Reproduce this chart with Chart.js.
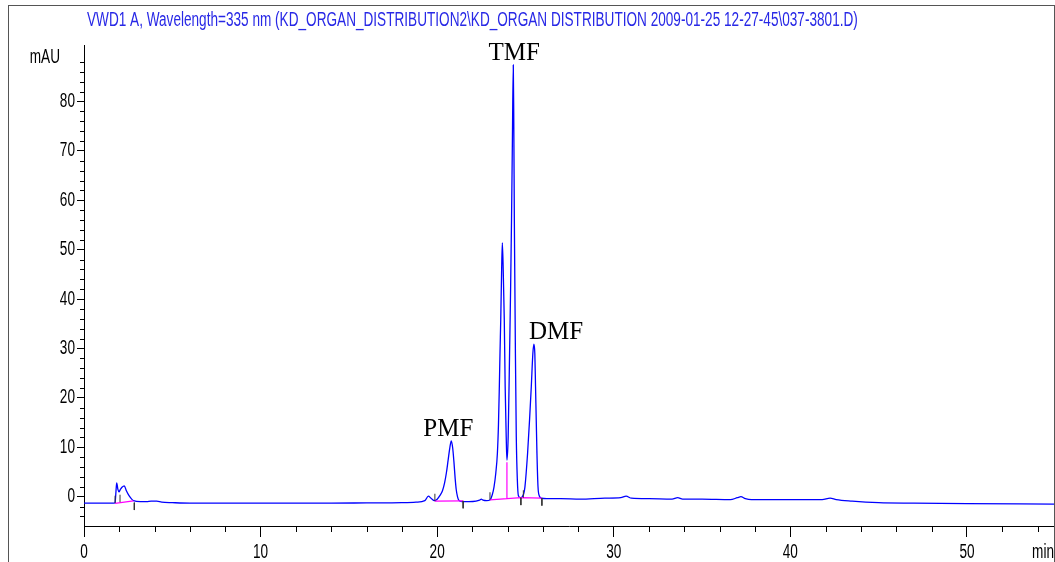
<!DOCTYPE html>
<html>
<head>
<meta charset="utf-8">
<script src="https://cdn.jsdelivr.net/npm/chart.js@4.4.1/dist/chart.umd.min.js"></script>
<style>
  html, body { margin: 0; padding: 0; background: #fff; }
  #chromatogram { display: block; }
</style>
</head>
<body>
<canvas id="chromatogram" width="1055" height="562"></canvas>
<script>
// retention time (min)
const retentionTimes = [
  0.00, 1.00, 1.70, 1.76, 1.80, 1.85, 1.92, 1.98, 2.05, 2.15, 2.28, 2.40, 2.55, 2.70, 2.80,
  3.20, 3.55, 3.80, 4.12, 4.40, 5.00, 6.00, 8.00, 10.0, 12.0, 14.0, 16.0, 18.0, 18.8,
  19.30, 19.50, 19.65, 19.85, 20.00, 20.15, 20.30, 20.42, 20.52, 20.62, 20.72, 20.80,
  20.88, 20.95, 21.02, 21.08, 21.15, 21.22, 21.40, 21.80, 22.20, 22.40, 22.50, 22.60, 22.80,
  23.00, 23.12, 23.22, 23.32, 23.41, 23.47, 23.52, 23.56, 23.60, 23.65, 23.69,
  23.74, 23.80, 23.85, 23.91, 23.95, 24.02, 24.10, 24.16, 24.21, 24.26, 24.31,
  24.34, 24.37, 24.40, 24.43, 24.48, 24.54, 24.60, 24.72, 24.80, 24.90, 24.97,
  25.12, 25.23, 25.33, 25.42, 25.48, 25.53, 25.57, 25.61, 25.65, 25.71, 25.78, 25.90,
  26.20, 27.00, 28.10, 29.50, 30.40, 30.70, 31.00, 32.00, 33.30, 33.62, 33.90, 35.00,
  36.60, 37.00, 37.20, 37.45, 37.80, 40.00, 41.80, 42.25, 42.60, 43.50, 45.00, 47.00,
  50.00, 54.93,
];

// VWD1 A signal at 335 nm (mAU)
const absorbance = [
  -1.30, -1.30, -1.30, -1.20, 0.50, 2.80, 1.50, 1.00, 1.40, 1.90, 2.20, 1.20, 0.20, -0.50, -0.80,
  -1.00, -1.00, -0.90, -0.90, -1.10, -1.20, -1.30, -1.30, -1.30, -1.30, -1.30, -1.25, -1.20, -1.10,
  -0.80, 0.10, -0.30, -0.80, -0.50, 0.20, 1.20, 2.80, 4.80, 7.40, 10.0, 11.3,
  9.80, 7.00, 3.60, 1.40, 0.00, -0.70, -1.00, -1.00, -0.90, -0.70, -0.50, -0.70, -0.80,
  -0.60, 0.40, 2.00, 4.80, 8.80, 14.5, 22.3, 29.5, 35.8, 45.9, 51.4,
  45.9, 35.8, 22.3, 12.1, 7.40, 12.1, 29.1, 42.5, 56.0, 72.2, 87.4,
  75.0, 56.0, 42.5, 29.1, 12.1, 3.40, 0.20, -0.20, -0.10, 0.60, 2.00,
  8.80, 15.5, 22.3, 29.1, 30.9, 29.0, 22.3, 15.5, 8.80, 2.00, 0.20, -0.30,
  -0.40, -0.40, -0.50, -0.30, -0.20, 0.10, -0.30, -0.40, -0.50, -0.20, -0.50, -0.50,
  -0.60, -0.20, 0.00, -0.40, -0.60, -0.60, -0.60, -0.30, -0.60, -0.90, -1.20, -1.30,
  -1.40, -1.50,
];

// named peaks
const peakNames = ['PMF', 'TMF', 'DMF'];
const peakTimes = [20.80, 24.31, 25.48];
const peakHeights = [11.3, 87.4, 30.9];

// integration baselines [start time, start level, end time, end level]
const integrationBaselines = [
  [1.76, -1.35, 2.80, -0.85],
  [19.87, -0.90, 21.47, -0.85],
  [22.99, -0.65, 24.74, -0.20],
  [24.74, -0.20, 25.93, -0.30],
];
// drop line between the two co-eluting peaks [time, from, to]
const dropLine = [23.95, -0.45, 7.0];

// peak start / end event marks [time, level]
const startEvents = [[1.76, -1.3], [2.04, -1.1], [19.87, -0.9], [22.99, -0.6], [24.88, -0.2]];
const endEvents = [[2.85, -1.2], [21.47, -0.85], [24.74, -0.2], [25.93, -0.3]];

// axis ticks
const xTicks = [0, 10, 20, 30, 40, 50];
const yTicks = [0, 10, 20, 30, 40, 50, 60, 70, 80];

const X_MAX = 54.93;
const Y_MIN = -5.93;
const Y_MAX = 91.44;
const MINOR_STEP = 2;
const MARK_LENGTH = 1.5;

const traceData = retentionTimes.map((t, i) => ({ x: t, y: absorbance[i] }));

const baselineData = [];
integrationBaselines.forEach(([t0, y0, t1, y1]) => {
  baselineData.push({ x: t0, y: y0 }, { x: t1, y: y1 }, { x: t1, y: null });
});
baselineData.push({ x: dropLine[0], y: dropLine[1] }, { x: dropLine[0], y: dropLine[2] });

const eventData = [];
startEvents.forEach(([t, level]) => {
  eventData.push({ x: t, y: level }, { x: t, y: level + MARK_LENGTH }, { x: t, y: null });
});
endEvents.forEach(([t, level]) => {
  eventData.push({ x: t, y: level }, { x: t, y: level - MARK_LENGTH }, { x: t, y: null });
});

const axisFont = "20px 'Liberation Sans', Arial, sans-serif";
const squeeze = 0.68;

// condensed axis lettering
function narrowText(ctx, text, x, y, align) {
  ctx.save();
  ctx.translate(x, y);
  ctx.scale(squeeze, 1);
  ctx.textAlign = align;
  ctx.fillText(text, 0, 0);
  ctx.restore();
}

const decorations = {
  id: 'decorations',
  afterDraw(chart) {
    const { ctx, chartArea } = chart;
    const x = chart.scales.x;
    const y = chart.scales.y;
    ctx.save();

    // outer frame
    ctx.strokeStyle = '#555';
    ctx.lineWidth = 1;
    ctx.strokeRect(8.5, 5.5, 1046, 600);

    // signal description
    ctx.fillStyle = '#2828e6';
    ctx.font = axisFont;
    ctx.textBaseline = 'middle';
    narrowText(ctx, 'VWD1 A, Wavelength=335 nm (KD_ORGAN_DISTRIBUTION2\\KD_ORGAN DISTRIBUTION 2009-01-25 12-27-45\\037-3801.D)', 87, 20, 'left');

    // minor ticks
    ctx.strokeStyle = '#000';
    ctx.beginPath();
    for (let v = MINOR_STEP; v < X_MAX; v += MINOR_STEP) {
      if (v % 10 === 0) continue;
      const px = Math.round(x.getPixelForValue(v)) + 0.5;
      ctx.moveTo(px, chartArea.bottom);
      ctx.lineTo(px, chartArea.bottom + 6);
    }
    for (let v = -4; v < Y_MAX; v += MINOR_STEP) {
      if (v % 10 === 0) continue;
      const py = Math.round(y.getPixelForValue(v)) + 0.5;
      ctx.moveTo(chartArea.left, py);
      ctx.lineTo(chartArea.left - 4, py);
    }
    ctx.stroke();

    // tick labels and units
    ctx.fillStyle = '#000';
    ctx.font = axisFont;
    ctx.textBaseline = 'middle';
    xTicks.forEach((v) => narrowText(ctx, String(v), x.getPixelForValue(v), chartArea.bottom + 26, 'center'));
    yTicks.forEach((v) => narrowText(ctx, String(v), chartArea.left - 9, y.getPixelForValue(v), 'right'));
    narrowText(ctx, 'mAU', chartArea.left - 24, chartArea.top + 12, 'right');
    narrowText(ctx, 'min', chartArea.right, chartArea.bottom + 26, 'right');

    // peak names
    ctx.font = "25px 'Liberation Serif', 'Times New Roman', serif";
    ctx.textBaseline = 'alphabetic';
    const nudges = [[-3, 'center'], [1, 'center'], [-5, 'left']];
    peakNames.forEach((name, i) => {
      ctx.textAlign = nudges[i][1];
      ctx.fillText(name, x.getPixelForValue(peakTimes[i]) + nudges[i][0], y.getPixelForValue(peakHeights[i]) - 5);
    });

    ctx.restore();
  },
};

const chromatogramContext = document.getElementById('chromatogram').getContext('2d');
new Chart(chromatogramContext, {
  type: 'line',
  data: {
    datasets: [
      {
        data: traceData,
        borderColor: '#0000ff',
        borderWidth: 1.3,
        pointRadius: 0,
        cubicInterpolationMode: 'monotone',
        order: 3,
      },
      {
        data: baselineData,
        borderColor: '#ff00ff',
        borderWidth: 1.2,
        pointRadius: 0,
        spanGaps: false,
        order: 2,
      },
      {
        data: eventData,
        borderColor: '#333',
        borderWidth: 1,
        pointRadius: 0,
        spanGaps: false,
        order: 1,
      },
    ],
  },
  options: {
    responsive: false,
    devicePixelRatio: 1,
    animation: false,
    events: [],
    layout: { padding: { top: 45, right: 1, left: 0, bottom: 0 } },
    plugins: {
      legend: { display: false },
      tooltip: { enabled: false },
    },
    scales: {
      x: {
        type: 'linear',
        min: 0,
        max: X_MAX,
        afterBuildTicks: (axis) => { axis.ticks = xTicks.map((v) => ({ value: v })); },
        afterFit: (axis) => { axis.height = 36; },
        grid: { drawOnChartArea: false, tickLength: 11, tickColor: '#000' },
        border: { color: '#000', width: 1 },
        ticks: { display: false },
      },
      y: {
        type: 'linear',
        min: Y_MIN,
        max: Y_MAX,
        afterBuildTicks: (axis) => { axis.ticks = yTicks.map((v) => ({ value: v })); },
        afterFit: (axis) => { axis.width = 84; },
        grid: { drawOnChartArea: false, tickLength: 7, tickColor: '#000' },
        border: { color: '#000', width: 1 },
        ticks: { display: false },
      },
    },
  },
  plugins: [decorations],
});
</script>
</body>
</html>
